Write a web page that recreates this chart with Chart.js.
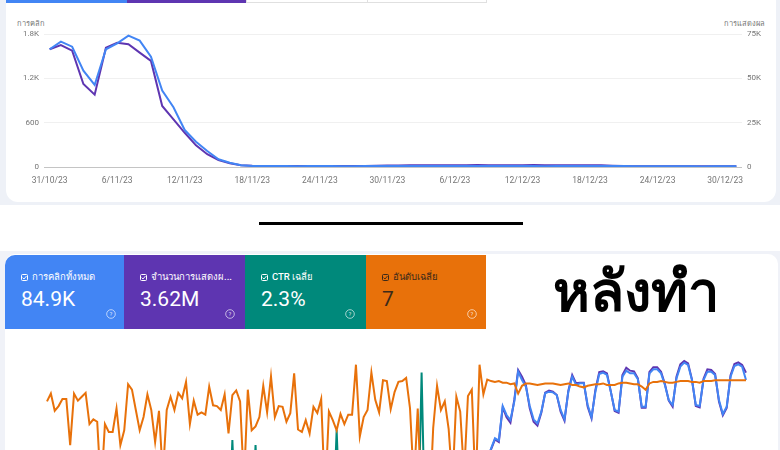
<!DOCTYPE html>
<html lang="th">
<head>
<meta charset="UTF-8">
<title>Search Console - ก่อน / หลังทำ</title>
<script src="https://cdn.jsdelivr.net/npm/chart.js"></script>
<style>
  body { margin:0; width:780px; height:450px; overflow:hidden; position:relative; background:#eef1f7; font-family: Roboto, 'Noto Sans', sans-serif; }
  .abs { position:absolute; }
  .axisTitle { position:absolute; top:17px; font-size:7.5px; color:#757575; }
  .tab { position:absolute; top:255px; height:74px; color:#fff; }
  .tab .lbl { position:absolute; left:16px; top:14px; font-size:9.5px; font-weight:500; white-space:nowrap; }
  .tab .lbl svg { vertical-align:-1px; margin-right:4px; }
  .tab .val { position:absolute; left:16px; top:34px; font-size:21px; line-height:21px; }
  .tab .help { position:absolute; top:54px; }
</style>
</head>
<body>
<!-- top screenshot: before -->
<div class="abs" style="left:6px;top:-12px;width:770px;height:214px;background:#fff;border-radius:12px;"></div>
<div class="abs" style="left:6px;top:0;width:121px;height:3px;background:#4285f4;"></div>
<div class="abs" style="left:127px;top:0;width:119px;height:3px;background:#5e35b1;"></div>
<div class="abs" style="left:246px;top:-2px;width:120px;height:4px;border:1px solid #e0e0e0;border-top:none;"></div>
<div class="abs" style="left:367px;top:-2px;width:119px;height:4px;border:1px solid #e0e0e0;border-top:none;border-left:none;"></div>
<div class="axisTitle" style="left:17px;">การคลิก</div>
<div class="axisTitle" style="right:15px;">การแสดงผล</div>
<canvas id="beforeChart" class="abs" style="left:0;top:0;" width="780" height="200"></canvas>

<!-- divider -->
<div class="abs" style="left:0;top:205px;width:780px;height:46px;background:#fff;"></div>
<div class="abs" style="left:259px;top:222px;width:264px;height:3px;background:#000;"></div>

<!-- bottom screenshot: after -->
<div class="abs" style="left:0;top:251px;width:780px;height:200px;background:#f0f2f8;"></div>
<div class="abs" style="left:5px;top:254px;width:773px;height:300px;background:#fff;border-radius:10px;"></div>

<div class="tab" style="left:5px;width:119px;background:#4285f4;border-top-left-radius:10px;">
  <div class="lbl"><svg width="7" height="7" viewBox="0 0 7 7"><rect x="0.5" y="0.5" width="6" height="6" rx="1" fill="none" stroke="#fff" stroke-width="1"/><path d="M1.6 3.6 L3 5 L5.5 2" fill="none" stroke="#fff" stroke-width="0.9"/></svg>การคลิกทั้งหมด</div>
  <div class="val">84.9K</div>
  <svg class="help" style="left:101px;" width="10" height="10" viewBox="0 0 10 10"><circle cx="5" cy="5" r="4.3" fill="none" stroke="rgba(255,255,255,0.7)" stroke-width="0.9"/><text x="5" y="7.2" font-size="6" text-anchor="middle" fill="rgba(255,255,255,0.8)">?</text></svg>
</div>
<div class="tab" style="left:124px;width:121px;background:#5e35b1;">
  <div class="lbl"><svg width="7" height="7" viewBox="0 0 7 7"><rect x="0.5" y="0.5" width="6" height="6" rx="1" fill="none" stroke="#fff" stroke-width="1"/><path d="M1.6 3.6 L3 5 L5.5 2" fill="none" stroke="#fff" stroke-width="0.9"/></svg>จำนวนการแสดงผ...</div>
  <div class="val">3.62M</div>
  <svg class="help" style="left:101px;" width="10" height="10" viewBox="0 0 10 10"><circle cx="5" cy="5" r="4.3" fill="none" stroke="rgba(255,255,255,0.7)" stroke-width="0.9"/><text x="5" y="7.2" font-size="6" text-anchor="middle" fill="rgba(255,255,255,0.8)">?</text></svg>
</div>
<div class="tab" style="left:245px;width:121px;background:#00897b;">
  <div class="lbl"><svg width="7" height="7" viewBox="0 0 7 7"><rect x="0.5" y="0.5" width="6" height="6" rx="1" fill="none" stroke="#fff" stroke-width="1"/><path d="M1.6 3.6 L3 5 L5.5 2" fill="none" stroke="#fff" stroke-width="0.9"/></svg>CTR เฉลี่ย</div>
  <div class="val">2.3%</div>
  <svg class="help" style="left:100px;" width="10" height="10" viewBox="0 0 10 10"><circle cx="5" cy="5" r="4.3" fill="none" stroke="rgba(255,255,255,0.7)" stroke-width="0.9"/><text x="5" y="7.2" font-size="6" text-anchor="middle" fill="rgba(255,255,255,0.8)">?</text></svg>
</div>
<div class="tab" style="left:366px;width:120px;background:#e8710a;color:#3c2a1a;">
  <div class="lbl"><svg width="7" height="7" viewBox="0 0 7 7"><rect x="0.5" y="0.5" width="6" height="6" rx="1" fill="none" stroke="#3c2a1a" stroke-width="1"/><path d="M1.6 3.6 L3 5 L5.5 2" fill="none" stroke="#3c2a1a" stroke-width="0.9"/></svg>อันดับเฉลี่ย</div>
  <div class="val">7</div>
  <svg class="help" style="left:101px;" width="10" height="10" viewBox="0 0 10 10"><circle cx="5" cy="5" r="4.3" fill="none" stroke="rgba(255,255,255,0.7)" stroke-width="0.9"/><text x="5" y="7.2" font-size="6" text-anchor="middle" fill="rgba(255,255,255,0.8)">?</text></svg>
</div>
<div class="abs" style="left:553px;top:262px;font-size:56px;font-weight:bold;line-height:60px;color:#000;">หลังทำ</div>

<canvas id="afterChart" class="abs" style="left:0;top:330px;" width="780" height="260"></canvas>

<script>
// ---- before: daily clicks / impressions 31/10/23 - 31/12/23
const dates = ['31/10/23',
  '1/11/23','2/11/23','3/11/23','4/11/23','5/11/23','6/11/23','7/11/23','8/11/23','9/11/23','10/11/23',
  '11/11/23','12/11/23','13/11/23','14/11/23','15/11/23','16/11/23','17/11/23','18/11/23','19/11/23','20/11/23',
  '21/11/23','22/11/23','23/11/23','24/11/23','25/11/23','26/11/23','27/11/23','28/11/23','29/11/23','30/11/23',
  '1/12/23','2/12/23','3/12/23','4/12/23','5/12/23','6/12/23','7/12/23','8/12/23','9/12/23','10/12/23',
  '11/12/23','12/12/23','13/12/23','14/12/23','15/12/23','16/12/23','17/12/23','18/12/23','19/12/23','20/12/23',
  '21/12/23','22/12/23','23/12/23','24/12/23','25/12/23','26/12/23','27/12/23','28/12/23','29/12/23','30/12/23','31/12/23'];

const clicks = [1593,1696,1628,1303,1110,1593,1674,1777,1710,1493,
  1033,808,500,342,216,104,58,23,14,12,
  13,12,11,12,13,12,10,11,12,13,
  14,13,12,14,15,14,13,12,13,14,
  15,14,13,12,11,12,13,14,15,14,
  13,12,11,10,10,9,10,9,8,9,
  10,9];

const impressions = [66400,68800,65600,46800,40800,67300,70100,69200,64500,59800,
  34400,26900,19300,12200,7200,3900,2100,1000,650,600,
  580,560,540,520,500,520,540,560,600,700,
  800,900,950,1000,1050,1000,980,1020,1060,1000,
  980,1000,1050,1100,1050,1000,980,1000,1020,950,
  700,500,450,430,420,410,400,400,390,380,
  380,370];

// ---- after: daily series (clicks, impressions, CTR %, average position)
const afterClicks = [20,18,25,22,19,15,17,24,26,21,
  18,16,22,25,23,20,17,19,24,27,
  25,22,20,18,26,30,28,24,21,23,
  29,32,30,27,25,31,34,33,28,26,
  30,36,35,32,29,34,38,40,37,33,
  36,42,45,41,38,44,48,46,42,40,
  47,52,50,46,44,51,56,55,49,47,
  54,60,58,53,50,57,63,61,56,54,
  62,68,66,60,58,66,74,72,66,63,
  74,84,90,86,82,110,140,170,200,240,
  280,320,300,350,400,440,420,480,530,560,
  540,600,660,700,740,820,880,866,1074,1020,
  990,1100,1280,1230,1190,1074,994,970,1040,1150,
  1160,1156,1140,1050,994,1160,1250,1200,1210,1210,
  1080,1006,1160,1266,1274,1260,1160,1050,1040,1250,
  1286,1270,1270,1234,1070,1070,1270,1294,1294,1270,
  1200,1110,1080,1240,1310,1334,1320,1230,1080,1074,
  1230,1280,1280,1260,1110,1026,1070,1250,1314,1324,
  1310,1230];

const afterImpressions = [1800,1700,2100,1900,1600,1400,1500,2000,2200,1800,
  1600,1500,1900,2100,2000,1700,1500,1600,2000,2300,
  2100,1900,1700,1600,2200,2500,2400,2000,1800,2000,
  2400,2700,2500,2300,2100,2600,2800,2700,2400,2200,
  2500,3000,2900,2700,2500,2900,3200,3300,3100,2800,
  3000,3500,3700,3400,3200,3600,4000,3800,3500,3300,
  3900,4300,4100,3800,3600,4200,4600,4500,4100,3900,
  4400,4900,4800,4400,4100,4700,5200,5000,4600,4400,
  5100,5600,5400,4900,4700,5400,6100,5900,5400,5200,
  6000,6900,7400,7100,6700,9000,11500,14000,16500,19500,
  22500,25500,24000,27000,28000,29000,28500,29500,30000,30500,
  30000,30500,31000,30800,31000,32560,34960,34320,42640,40240,
  38960,44400,51600,50000,48000,42400,39200,38240,41360,46160,
  46640,46400,45600,41600,39440,46640,50400,48400,48560,48560,
  42800,40000,46800,51120,51280,50800,46400,41760,41360,50400,
  52160,51440,51280,49600,42560,42560,51120,52240,52240,51200,
  48240,44240,42800,50000,52960,53760,53200,49360,42960,42640,
  49520,51760,51600,50640,44000,40720,42480,50320,53040,53440,
  52800,50960];

const afterCtr = [1.1,1.1,1.2,1.2,1.2,1.1,1.1,1.2,1.2,1.2,
  1.1,1.1,1.2,1.2,1.2,1.2,1.1,1.2,1.2,1.2,
  1.2,1.2,1.2,1.1,1.2,1.2,1.2,1.2,1.2,1.2,
  1.2,1.2,1.2,1.2,1.2,1.2,1.2,1.2,1.2,1.2,
  1.2,1.2,1.2,1.2,1.2,1.2,1.2,1.8,5.8,1.9,
  1.2,1.2,1.2,1.9,5.6,1.8,1.2,1.2,1.2,1.2,
  1.2,1.2,1.2,1.2,1.2,1.2,1.2,1.2,1.2,1.2,
  1.2,1.2,1.2,1.2,2.0,6.2,2.1,1.2,1.2,1.2,
  1.2,1.2,1.2,1.2,1.2,1.2,1.2,1.2,1.2,1.2,
  1.2,1.2,1.2,1.2,1.2,1.2,1.3,8.5,1.4,1.2,
  1.2,1.3,1.3,1.3,1.4,1.5,1.5,1.6,1.8,1.8,
  1.8,2.0,2.1,2.3,2.4,2.5,2.5,2.5,2.5,2.5,
  2.5,2.5,2.5,2.5,2.5,2.5,2.5,2.5,2.5,2.5,
  2.5,2.5,2.5,2.5,2.5,2.5,2.5,2.5,2.5,2.5,
  2.5,2.5,2.5,2.5,2.5,2.5,2.5,2.5,2.5,2.5,
  2.5,2.5,2.5,2.5,2.5,2.5,2.5,2.5,2.5,2.5,
  2.5,2.5,2.5,2.5,2.5,2.5,2.5,2.5,2.5,2.5,
  2.5,2.5,2.5,2.5,2.5,2.5,2.5,2.5,2.5,2.5,
  2.4,2.4];

const afterPosition = [9.5,8.5,10.7,10.1,9.2,9.2,15.1,8.5,9.4,8.9,
  8.4,12.4,11.8,12.1,21,12.4,13.4,13.4,10.4,15.1,
  13.2,7.3,8.0,10.6,13.2,11.5,8.6,10.6,14.7,10.7,
  19,10.6,8.9,10.6,8.4,9.1,7.0,12.4,9.4,11.2,
  10.9,11.2,7.6,10.0,10.1,10.6,8.6,13.6,8.7,8.1,
  9.5,20,8.0,13.2,12.7,11.5,7.5,10.9,6.3,11.5,
  10.1,10.2,12.1,11.0,5.9,13.1,13.4,11.9,13.6,10.2,
  11.0,9.2,22,10.8,11.9,13.2,11.1,12.4,11.2,11.2,
  4.8,14.0,11.5,10.6,5.8,9.3,10.9,6.8,6.9,10.5,
  8.3,7.0,6.9,6.5,10.4,20,10.4,23,21,24,
  12.9,7.5,10.6,9.5,13.0,20,8.9,10.8,19,8.8,
  8.0,21,4.8,8.6,6.7,6.9,7.0,6.9,7.1,7.1,
  7.3,7.2,8.5,7.5,7.2,7.2,7.3,7.4,7.3,7.2,
  7.2,7.2,7.3,7.4,7.3,7.2,7.4,7.4,7.6,7.7,
  7.5,7.4,7.3,7.3,7.2,7.4,7.4,7.4,7.2,7.1,
  7.1,7.2,7.3,7.3,7.6,8.0,7.2,7.0,7.0,6.9,
  7.0,7.1,7.1,7.0,6.9,6.9,6.9,7.0,7.0,7.1,
  6.9,6.9,6.9,6.8,6.8,6.8,6.8,6.8,6.8,6.8,
  6.8,6.8];

const afterDays = afterPosition.map((_, i) => i + 1);

Chart.defaults.font.family = 'Roboto';
Chart.defaults.animation = false;

const tickFont = { size: 8 };
const tickColor = '#757575';

new Chart(document.getElementById('beforeChart'), {
    type: 'line',
    data: {
        labels: dates,
        datasets: [
            { label: 'การคลิก', data: clicks, yAxisID: 'yL', borderColor: '#4285f4', borderWidth: 2, pointRadius: 0, tension: 0 },
            { label: 'การแสดงผล', data: impressions, yAxisID: 'yR', borderColor: '#5e35b1', borderWidth: 2, pointRadius: 0, tension: 0 }
        ]
    },
    options: {
        responsive: false,
        events: [],
        layout: { padding: { top: 34, left: 0, right: 0, bottom: 0 } },
        plugins: { legend: { display: false }, tooltip: { enabled: false } },
        scales: {
            x: {
                offset: true,
                grid: { display: false, drawTicks: false },
                border: { display: false },
                ticks: {
                    autoSkip: false, maxRotation: 0, padding: 9, color: tickColor, font: { size: 8.5 },
                    callback: function (v, i) { return i % 6 === 0 ? this.getLabelForValue(v) : ''; }
                },
                afterFit: s => { s.height = 33; }
            },
            yL: {
                position: 'left', min: 0, max: 1800,
                grid: { drawTicks: false, color: c => c.tick.value === 0 ? '#c4c4c4' : '#f0f0f0' },
                border: { display: false },
                ticks: { stepSize: 600, padding: 5, color: tickColor, font: tickFont,
                    callback: v => v >= 1000 ? (v / 1000) + 'K' : v },
                afterFit: s => { s.width = 44; }
            },
            yR: {
                position: 'right', min: 0, max: 75000,
                grid: { display: false, drawTicks: false },
                border: { display: false },
                ticks: { stepSize: 25000, padding: 5, color: tickColor, font: tickFont,
                    callback: v => v ? (v / 1000) + 'K' : '0' },
                afterFit: s => { s.width = 38; }
            }
        }
    }
});

new Chart(document.getElementById('afterChart'), {
    type: 'line',
    data: {
        labels: afterDays,
        datasets: [
            { label: 'อันดับเฉลี่ย', data: afterPosition, yAxisID: 'pos', borderColor: '#e8710a', borderWidth: 2, pointRadius: 0, tension: 0 },
            { label: 'การคลิกทั้งหมด', data: afterClicks, yAxisID: 'clk', borderColor: '#4285f4', borderWidth: 2, pointRadius: 0, tension: 0 },
            { label: 'จำนวนการแสดงผล', data: afterImpressions, yAxisID: 'imp', borderColor: '#5e35b1', borderWidth: 2, pointRadius: 0, tension: 0 },
            { label: 'CTR เฉลี่ย', data: afterCtr, yAxisID: 'ctr', borderColor: '#00897b', borderWidth: 2, pointRadius: 0, tension: 0 }
        ]
    },
    options: {
        responsive: false,
        events: [],
        layout: { padding: { top: 5, left: 47, right: 34, bottom: 5 } },
        plugins: { legend: { display: false }, tooltip: { enabled: false } },
        scales: {
            x: { display: false },
            pos: { display: false, reverse: true, min: 1, max: 33 },
            clk: { display: false, min: 0, max: 1500 },
            imp: { display: false, min: 0, max: 60000 },
            ctr: { display: false, min: 0, max: 10 }
        }
    }
});
</script>
</body>
</html>
